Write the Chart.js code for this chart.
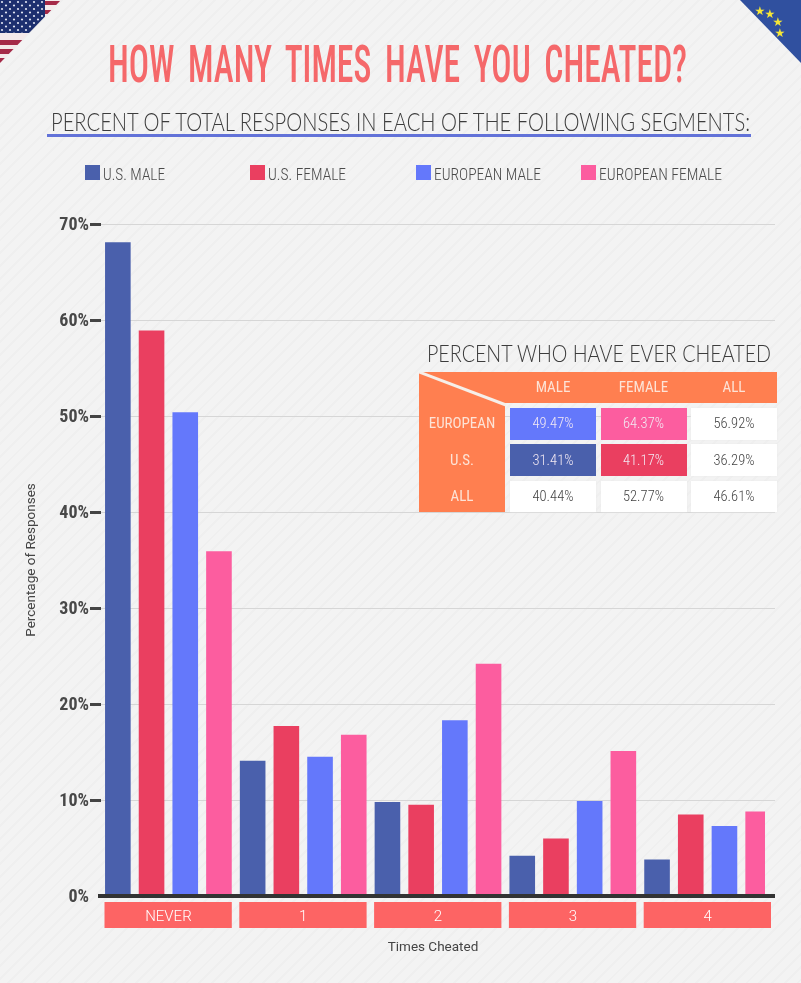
<!DOCTYPE html>
<html>
<head>
<meta charset="utf-8">
<script src="https://cdn.jsdelivr.net/npm/chart.js@4"></script>
<style>
  html, body { margin: 0; padding: 0; }
  body {
    width: 801px; height: 983px; position: relative; overflow: hidden;
    background-color: #f2f2f2;
    background-image: repeating-linear-gradient(135deg, #f3f3f3 0 7px, #efefef 7px 9px);
    font-family: Roboto, sans-serif; color: #444;
  }
  #chart { position: absolute; left: 0; top: 0; }
  .abs { position: absolute; white-space: nowrap; line-height: 1; transform-origin: left center; }
  .flag { position: absolute; top: 0; }
  #title { left: 108px; top: 34px; font: 500 52px Roboto, sans-serif; font-stretch: 75%; word-spacing: 9px; color: #f5686a; }
  #subtitle { left: 51px; top: 106px; font: 300 25px Lato, sans-serif; color: #3c3c3c; }
  #rule { position: absolute; left: 47px; top: 134px; width: 704px; height: 3px; background: #6272d8; }
  .swatch { position: absolute; top: 165px; width: 15px; height: 15px; }
  .legendText { top: 164px; font: 300 17px Roboto, sans-serif; font-stretch: 75%; color: #4a4a4a; }
  #tableTitle { left: 427px; top: 339px; font: 300 23px Lato, sans-serif; color: #3c3c3c; }
  #tableBack { position: absolute; left: 419px; top: 372px; }
  #cells { position: absolute; left: 510px; top: 371px; width: 267px; display: grid;
    grid-template-columns: 86px 86px 86px; column-gap: 4.5px; grid-template-rows: 32px 32px 32px 31px; row-gap: 4.5px; }
  #cells div, .rowHead { display: flex; align-items: center; justify-content: center; }
  #cells .head { background: none; color: #fde3d6; font: 400 15px Roboto, sans-serif; font-stretch: 75%; }
  #cells .val { background: #fff; font: 300 14.5px Roboto, sans-serif; font-stretch: 87%; color: #444; box-shadow: 0 0 2px #e9e9e9; }
  #cells .val.colored { color: #f3e9f3; box-shadow: none; }
  .rowHead { position: absolute; left: 419px; width: 86px; height: 32px;
    color: #fde3d6; font: 400 15px Roboto, sans-serif; font-stretch: 75%; }
</style>
</head>
<body>
<canvas id="chart" width="801" height="983"></canvas>

<svg class="flag" style="left:0" width="62" height="64" viewBox="0 0 62 64">
  <defs>
    <clipPath id="usClip"><polygon points="0,0 61,0 0,63"/></clipPath>
    <pattern id="usStars" width="8" height="7" patternUnits="userSpaceOnUse">
      <circle cx="2" cy="2" r="1.1" fill="#dfe3f2"/><circle cx="6" cy="5.5" r="1.1" fill="#dfe3f2"/>
    </pattern>
  </defs>
  <g clip-path="url(#usClip)">
    <rect width="62" height="64" fill="#f4e9ea"/>
    <rect y="1" width="62" height="4" fill="#a52a48"/>
    <rect y="10" width="62" height="4" fill="#a52a48"/>
    <rect y="40" width="62" height="5" fill="#a52a48"/>
    <rect y="49" width="62" height="5" fill="#a52a48"/>
    <rect y="58" width="62" height="5" fill="#a52a48"/>
    <rect width="45" height="33" fill="#1d2f6f"/>
    <rect width="45" height="33" fill="url(#usStars)"/>
  </g>
</svg>
<svg class="flag" style="left:739px" width="62" height="64" viewBox="0 0 62 64">
  <polygon points="1,0 62,0 62,63" fill="#30509f"/>
  <g fill="#f5e637" font-size="12" font-family="DejaVu Sans" text-anchor="middle">
    <text x="21" y="15">★</text><text x="31" y="18">★</text>
    <text x="39" y="26">★</text><text x="41" y="37">★</text>
  </g>
</svg>

<div id="title" class="abs" data-w="579">HOW MANY TIMES HAVE YOU CHEATED?</div>
<div id="subtitle" class="abs" data-w="699">PERCENT OF TOTAL RESPONSES IN EACH OF THE FOLLOWING SEGMENTS:</div>
<div id="rule"></div>
<div id="legend"></div>

<div id="tableTitle" class="abs" data-w="344">PERCENT WHO HAVE EVER CHEATED</div>
<svg id="tableBack" width="358" height="141" viewBox="0 0 358 141">
  <rect width="358" height="31" fill="#ff7f50"/>
  <rect width="86" height="140" fill="#ff7f50"/>
  <line x1="0" y1="0" x2="87" y2="33" stroke="#f6efe9" stroke-width="3"/>
</svg>
<div id="rowHeads"></div>
<div id="cells"></div>

<script>
const categories = ['NEVER', '1', '2', '3', '4'];
const usMale = [68.1, 14.1, 9.8, 4.2, 3.8];
const usFemale = [58.9, 17.7, 9.5, 6.0, 8.5];
const euMale = [50.4, 14.5, 18.3, 9.9, 7.3];
const euFemale = [35.9, 16.8, 24.2, 15.1, 8.8];

const seriesNames = ['U.S. MALE', 'U.S. FEMALE', 'EUROPEAN MALE', 'EUROPEAN FEMALE'];
const seriesColors = ['#4a60ac', '#ea3f60', '#6478fb', '#fc5d9f'];

const tableCols = ['MALE', 'FEMALE', 'ALL'];
const tableRows = ['EUROPEAN', 'U.S.', 'ALL'];
const europeanRow = ['49.47%', '64.37%', '56.92%'];
const usRow = ['31.41%', '41.17%', '36.29%'];
const allRow = ['40.44%', '52.77%', '46.61%'];

// legend, laid out by hand because the columns are evenly spaced
const swatchX = [85, 250, 416, 581];
const legendW = [62, 78, 107, 123];
const legend = document.getElementById('legend');
seriesNames.forEach((name, i) => {
  const box = document.createElement('div');
  box.className = 'swatch';
  box.style.left = swatchX[i] + 'px';
  box.style.background = seriesColors[i];
  legend.appendChild(box);
  const label = document.createElement('div');
  label.className = 'abs legendText';
  label.style.left = (swatchX[i] + 18) + 'px';
  label.dataset.w = legendW[i];
  label.textContent = name;
  legend.appendChild(label);
});

// side table
const cells = document.getElementById('cells');
const addCell = (cls, text, bg) => {
  const c = document.createElement('div');
  c.className = cls;
  c.textContent = text;
  if (bg) c.style.background = bg;
  cells.appendChild(c);
};
tableCols.forEach(c => addCell('head', c));
[europeanRow, usRow, allRow].forEach((row, r) => {
  row.forEach((v, c) => {
    let bg = null;
    if (r === 0 && c === 0) bg = seriesColors[2];
    if (r === 0 && c === 1) bg = seriesColors[3];
    if (r === 1 && c === 0) bg = seriesColors[0];
    if (r === 1 && c === 1) bg = seriesColors[1];
    addCell(bg ? 'val colored' : 'val', v, bg);
  });
});
const rowHeads = document.getElementById('rowHeads');
tableRows.forEach((name, i) => {
  const h = document.createElement('div');
  h.className = 'rowHead';
  h.style.top = (407 + i * 36.5) + 'px';
  h.textContent = name;
  rowHeads.appendChild(h);
});

// squeeze headings to their measured width
document.querySelectorAll('[data-w]').forEach(el => {
  const w = el.getBoundingClientRect().width;
  el.style.transform = 'scaleX(' + (el.dataset.w / w) + ')';
});

// red tabs behind the category labels, and the heavy baseline
const tabsPlugin = {
  id: 'tabs',
  afterLayout(chart) {
    // the x title sits a little left of the plot centre
    chart.scales.x.right -= 10;
  },
  beforeDraw(chart) {
    const { ctx, scales: { x } } = chart;
    ctx.fontStretch = 'condensed';
    const step = x.getPixelForValue(1) - x.getPixelForValue(0);
    ctx.fillStyle = '#fd6464';
    categories.forEach((c, i) => {
      ctx.fillRect(x.getPixelForValue(i) - step / 2 + 3.5, 902, step - 7.5, 26);
    });
  },
  afterDatasetsDraw(chart) {
    const { ctx, chartArea, scales: { y } } = chart;
    const y0 = y.getPixelForValue(0);
    ctx.save();
    ctx.fillStyle = '#333';
    ctx.fillRect(chartArea.left - 3, y0 - 2, chartArea.right - chartArea.left + 3, 4);
    ctx.restore();
  }
};

new Chart(document.getElementById('chart'), {
  type: 'bar',
  data: {
    labels: categories,
    datasets: [usMale, usFemale, euMale, euFemale].map((data, i) => ({
      label: seriesNames[i],
      data,
      backgroundColor: seriesColors[i],
      categoryPercentage: 1,
      barPercentage: 0.76
    }))
  },
  options: {
    responsive: false,
    animation: false,
    layout: { padding: { top: 224, right: 26, left: 0, bottom: 0 } },
    plugins: { legend: { display: false }, tooltip: { enabled: false } },
    scales: {
      x: {
        afterFit: s => { s.height = 87; },
        grid: { display: false },
        border: { display: false },
        ticks: { color: '#fff', padding: 4, maxRotation: 0, font: { family: 'Roboto, sans-serif', size: 15, weight: 300 } },
        title: {
          display: true, text: 'Times Cheated', color: '#444',
          font: { family: 'Roboto, sans-serif', size: 13.5 }, padding: { top: 0, bottom: 27 }
        }
      },
      y: {
        min: 0,
        max: 70,
        afterFit: s => { s.width = 101; },
        border: { display: false },
        grid: {
          color: '#d6d6d6',
          tickLength: 11,
          tickWidth: 3,
          tickColor: c => (c.tick && c.tick.value === 0 ? 'transparent' : '#444')
        },
        ticks: {
          stepSize: 10,
          padding: 1,
          labelOffset: 1,
          color: '#484848',
          font: { family: 'Roboto, sans-serif', size: 18, weight: 'bold' },
          callback: v => v + '%'
        },
        title: {
          display: true, text: 'Percentage of Responses', color: '#444',
          font: { family: 'Roboto, sans-serif', size: 13.5 }, padding: { top: 24, bottom: 0 }
        }
      }
    }
  },
  plugins: [tabsPlugin]
});
</script>
</body>
</html>
